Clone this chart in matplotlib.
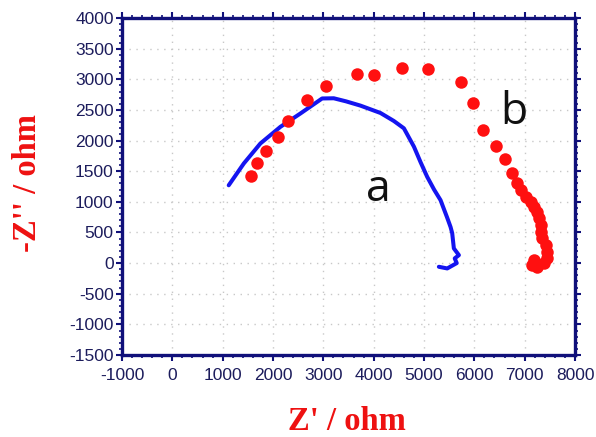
import matplotlib
matplotlib.use("Agg")
import matplotlib.pyplot as plt
from matplotlib.ticker import AutoMinorLocator

plt.rcParams["axes.unicode_minus"] = False

# Curve a (blue line)
a_x = [1120, 1420, 1750, 2147, 2545, 2976, 3207, 3450, 3738, 4135, 4400, 4600,
       4800, 4930, 5063, 5200, 5328, 5461, 5527, 5560, 5593, 5693, 5610, 5650,
       5461, 5295]
a_y = [1270, 1626, 1953, 2224, 2442, 2687, 2690, 2640, 2570, 2450, 2320, 2200,
       1900, 1650, 1408, 1200, 1028, 740, 590, 489, 240, 130, 77, 0,
       -87, -60]

# Curve b (red dots)
b_x = [1571, 1684, 1863, 2101, 2300, 2684, 3048, 3664, 4010, 4567, 5084, 5726,
       5970, 6169, 6421, 6606, 6753, 6853, 6918, 7018, 7117, 7183, 7251, 7282,
       7316, 7316, 7350, 7416, 7449, 7449, 7382, 7250, 7151, 7183]
b_y = [1419, 1626, 1832, 2060, 2316, 2670, 2892, 3083, 3067, 3176, 3165, 2948,
       2605, 2170, 1914, 1697, 1463, 1300, 1191, 1082, 1000, 918, 837, 729,
       620, 511, 403, 294, 184, 77, -5, -60, -33, 49]

x_ticks = [-1000, 0, 1000, 2000, 3000, 4000, 5000, 6000, 7000, 8000]
y_ticks = [-1500, -1000, -500, 0, 500, 1000, 1500, 2000, 2500, 3000, 3500, 4000]

navy = "#10107a"
fig = plt.figure(figsize=(5.96, 4.37), dpi=100)
ax = fig.add_axes([0.2047, 0.1876, 0.7601, 0.7712])

ax.plot(a_x, a_y, color="#1414f0", lw=2.9, solid_joinstyle="round",
        solid_capstyle="round", zorder=3)
ax.plot(b_x, b_y, "o", color="#ff1010", ms=9, mec="none", zorder=4)

ax.set_xlim(-1000, 8000)
ax.set_ylim(-1500, 4000)
ax.set_xticks(x_ticks)
ax.set_yticks(y_ticks)
ax.xaxis.set_minor_locator(AutoMinorLocator(5))
ax.yaxis.set_minor_locator(AutoMinorLocator(5))
ax.grid(True, which="major", color="#c8c8c8", ls=(0, (1, 4)), lw=1)

for s in ax.spines.values():
    s.set_color(navy)
    s.set_linewidth(2.4)

ax.tick_params(which="both", direction="out", top=True, right=True,
               color=navy, labelcolor="#1c1c5c", labelsize=12.5)
ax.tick_params(which="major", length=4, width=1.5)
ax.tick_params(which="minor", length=2.5, width=1.2)
for lab in ax.get_xticklabels() + ax.get_yticklabels():
    lab.set_fontfamily("Liberation Sans")
ax.tick_params(axis="x", pad=5)
ax.tick_params(axis="y", pad=2)

ax.text(4100, 1190, "a", fontsize=32, family="Open Sans", color="#111111",
        ha="center", va="center")
ax.text(6780, 2450, "b", fontsize=32, family="Open Sans", color="#111111",
        ha="center", va="center")

fig.text(347 / 596, 1 - 422 / 437, "Z' / ohm", color="#ee1111", fontsize=23.5,
         fontweight="bold", family="Liberation Serif", ha="center", va="center")
fig.text(27 / 596, 1 - 183 / 437, "-Z'' / ohm", color="#ee1111", fontsize=23.5,
         fontweight="bold", family="Liberation Serif", ha="center", va="center",
         rotation=90)

fig.savefig("out.png", dpi=100)
